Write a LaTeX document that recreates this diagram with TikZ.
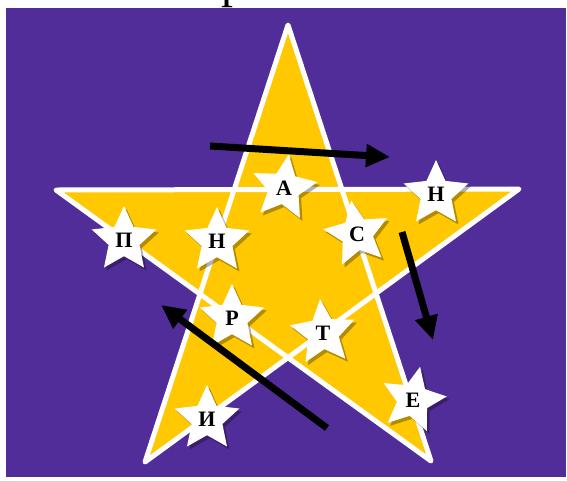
\documentclass[tikz,border=0pt]{standalone}
\usepackage{fontspec}
\setmainfont{Liberation Serif}
\usetikzlibrary{shapes.geometric, arrows.meta, shadows}

\definecolor{bgpurple}{RGB}{81,45,154}
\definecolor{staryellow}{RGB}{255,200,0}

\begin{document}
\begin{tikzpicture}[
    x=1pt, y=-1pt,
    letter/.style={star, star points=5, star point ratio=2.1, minimum size=68pt, inner sep=0pt, fill=white, drop shadow={shadow xshift=2.5pt, shadow yshift=-3pt, fill=black, opacity=0.3}, font=\bfseries\fontsize{22}{22}\selectfont, text=black},
    outline/.style={draw=white, line width=5pt, line join=round, fill=staryellow},
    bigarrow/.style={draw, -{Triangle[length=24pt, width=22pt]}, line width=7pt}
]
\useasboundingbox (0,0) rectangle (567,480);

% cut-off heading above the picture
\node[font=\fontsize{48}{48}\selectfont, anchor=base west, inner sep=0pt] (head) at (221,-3) {р};
\fill[bgpurple] (6,8) rectangle (566,477);

% big star
\coordinate (top) at (288,25);
\coordinate (left) at (56,190);
\coordinate (right) at (519,189);
\coordinate (botleft) at (145,462);
\coordinate (botright) at (431,461);
\path[outline] (top) -- (botleft) -- (right) -- (left) -- (botright) -- cycle;

% letters
\node[letter] (pe) at (124,240) {П};
\node[letter] (en1) at (217,241) {Н};
\node[letter, shape border rotate=-8] (a) at (284,188) {А};
\node[letter, shape border rotate=10] (es) at (357,234) {С};
\node[letter] (en2) at (436,194) {Н};
\node[letter] (er) at (232,318) {Р};
\node[letter, shape border rotate=5] (te) at (323,333) {Т};
\node[letter] (i) at (207,419) {И};
\node[letter, shape border rotate=-12] (e) at (413,400) {Е};

% arrows
\coordinate (a1s) at (210,146);
\coordinate (a1e) at (390,157);
\coordinate (a2s) at (402,232);
\coordinate (a2e) at (433,340);
\coordinate (a3s) at (327,428);
\coordinate (a3e) at (161,305);
\path[bigarrow] (a1s) -- (a1e);
\path[bigarrow] (a2s) -- (a2e);
\path[bigarrow] (a3s) -- (a3e);

\end{tikzpicture}
\end{document}
